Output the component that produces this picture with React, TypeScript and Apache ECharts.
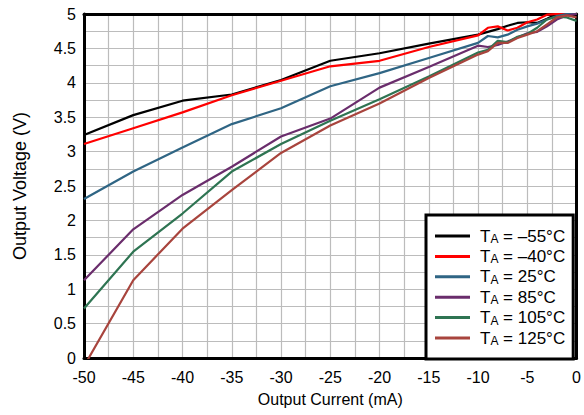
import React, { useEffect, useRef } from "react";
import * as echarts from "echarts";

const currents = [-50, -45, -40, -35, -30, -25, -20, -15, -10, -9, -8, -7, -6, -5, -4, -3, -2, -1, 0];

const seriesNames = ["TA = –55°C", "TA = –40°C", "TA = 25°C", "TA = 85°C", "TA = 105°C", "TA = 125°C"];
const seriesColors = ["#000000", "#ff0000", "#2f6584", "#6a2d6c", "#2e7452", "#a8443d"];

const vMinus55 = [3.24, 3.53, 3.74, 3.83, 4.04, 4.32, 4.43, 4.57, 4.7, 4.74, 4.78, 4.83, 4.87, 4.88, 4.87, 4.93, 5.0, 5.0, 5.0];
const vMinus40 = [3.11, 3.34, 3.57, 3.82, 4.03, 4.24, 4.32, 4.52, 4.69, 4.8, 4.82, 4.76, 4.8, 4.88, 4.92, 4.99, 5.0, 5.0, 5.0];
const v25 = [2.31, 2.71, 3.06, 3.4, 3.63, 3.95, 4.14, 4.36, 4.58, 4.68, 4.66, 4.7, 4.77, 4.82, 4.86, 4.92, 4.97, 5.0, 5.0];
const v85 = [1.13, 1.87, 2.37, 2.78, 3.22, 3.48, 3.93, 4.23, 4.54, 4.52, 4.55, 4.6, 4.66, 4.72, 4.74, 4.82, 4.92, 4.98, 5.0];
const v105 = [0.72, 1.545, 2.1, 2.71, 3.11, 3.45, 3.76, 4.09, 4.44, 4.48, 4.61, 4.59, 4.67, 4.71, 4.8, 4.92, 4.96, 4.95, 4.9];
const v125 = [-0.12, 1.13, 1.88, 2.44, 2.98, 3.38, 3.7, 4.07, 4.41, 4.46, 4.58, 4.58, 4.65, 4.7, 4.75, 4.85, 4.95, 4.98, 4.95];

const voltages = [vMinus55, vMinus40, v25, v85, v105, v125];

const FONT = '"Liberation Sans", Arial, Helvetica, sans-serif';

export default function App() {
  const ref = useRef<HTMLDivElement>(null);
  useEffect(() => {
    if (!ref.current) return;
    const chart = echarts.init(ref.current, null, { renderer: "svg" });
    const gridLine = { lineStyle: { color: "#bcbcbc", width: 1.2 } };
    const option: any = {
      animation: false,
      backgroundColor: "#fff",
      textStyle: { fontFamily: FONT },
      grid: { left: 84, top: 14, width: 494, height: 344, containLabel: false },
      xAxis: [
        {
          type: "value",
          min: -50,
          max: 0,
          interval: 2.5,
          axisLine: { show: true, onZero: false, lineStyle: { color: "#000", width: 3 } },
          axisTick: { show: false },
          axisLabel: {
            color: "#000",
            fontSize: 16,
            fontFamily: FONT,
            margin: 11,
            formatter: (v: number) => (Math.abs(v / 5 - Math.round(v / 5)) < 1e-6 ? String(v) : ""),
          },
          splitLine: { show: true, ...gridLine },
          name: "Output Current (mA)",
          nameLocation: "middle",
          nameGap: 33,
          nameTextStyle: { color: "#000", fontSize: 16, fontFamily: FONT },
        },
        {
          type: "value",
          position: "top",
          min: -50,
          max: 0,
          axisLine: { show: true, onZero: false, lineStyle: { color: "#000", width: 3 } },
          axisTick: { show: false },
          axisLabel: { show: false },
          splitLine: { show: false },
        },
      ],
      yAxis: [
        {
          type: "value",
          min: 0,
          max: 5,
          interval: 0.25,
          axisLine: { show: true, onZero: false, lineStyle: { color: "#000", width: 3 } },
          axisTick: { show: false },
          axisLabel: {
            color: "#000",
            fontSize: 16,
            fontFamily: FONT,
            margin: 8,
            formatter: (v: number) => (Math.abs(v * 2 - Math.round(v * 2)) < 1e-6 ? String(v) : ""),
          },
          splitLine: { show: true, ...gridLine },
          name: "Output Voltage (V)",
          nameLocation: "middle",
          nameGap: 55,
          nameTextStyle: { color: "#000", fontSize: 18, fontFamily: FONT },
        },
        {
          type: "value",
          position: "right",
          min: 0,
          max: 5,
          axisLine: { show: true, onZero: false, lineStyle: { color: "#000", width: 3 } },
          axisTick: { show: false },
          axisLabel: { show: false },
          splitLine: { show: false },
        },
      ],
      legend: {
        orient: "vertical",
        left: 426,
        top: 215,
        backgroundColor: "#fff",
        borderColor: "#000",
        borderWidth: 3,
        borderRadius: 0,
        padding: [12, 8, 12, 9],
        itemWidth: 35,
        itemHeight: 3,
        itemGap: 2.4,
        icon: "rect",
        data: seriesNames,
        formatter: (name: string) => `{t|T}{s|A}{t|${name.slice(2)}}`,
        textStyle: {
          padding: [0, 0, 0, 5],
          rich: {
            t: { fontSize: 17, lineHeight: 18, color: "#000", fontFamily: FONT, verticalAlign: "middle" },
            s: { fontSize: 12, lineHeight: 12, color: "#000", fontFamily: FONT, verticalAlign: "bottom", padding: [6, 0, 0, 0] },
          },
        },
      },
      series: seriesNames.map((name, i) => ({
        name,
        type: "line",
        xAxisIndex: 0,
        yAxisIndex: 0,
        showSymbol: false,
        symbol: "none",
        color: seriesColors[i],
        lineStyle: { color: seriesColors[i], width: 2.2 },
        data: currents.map((x, j) => [x, voltages[i][j]]),
      })),
    };
    chart.setOption(option);
    return () => chart.dispose();
  }, []);
  return <div ref={ref} style={{ position: "fixed", left: 0, top: 0, width: 584, height: 415 }} />;
}
